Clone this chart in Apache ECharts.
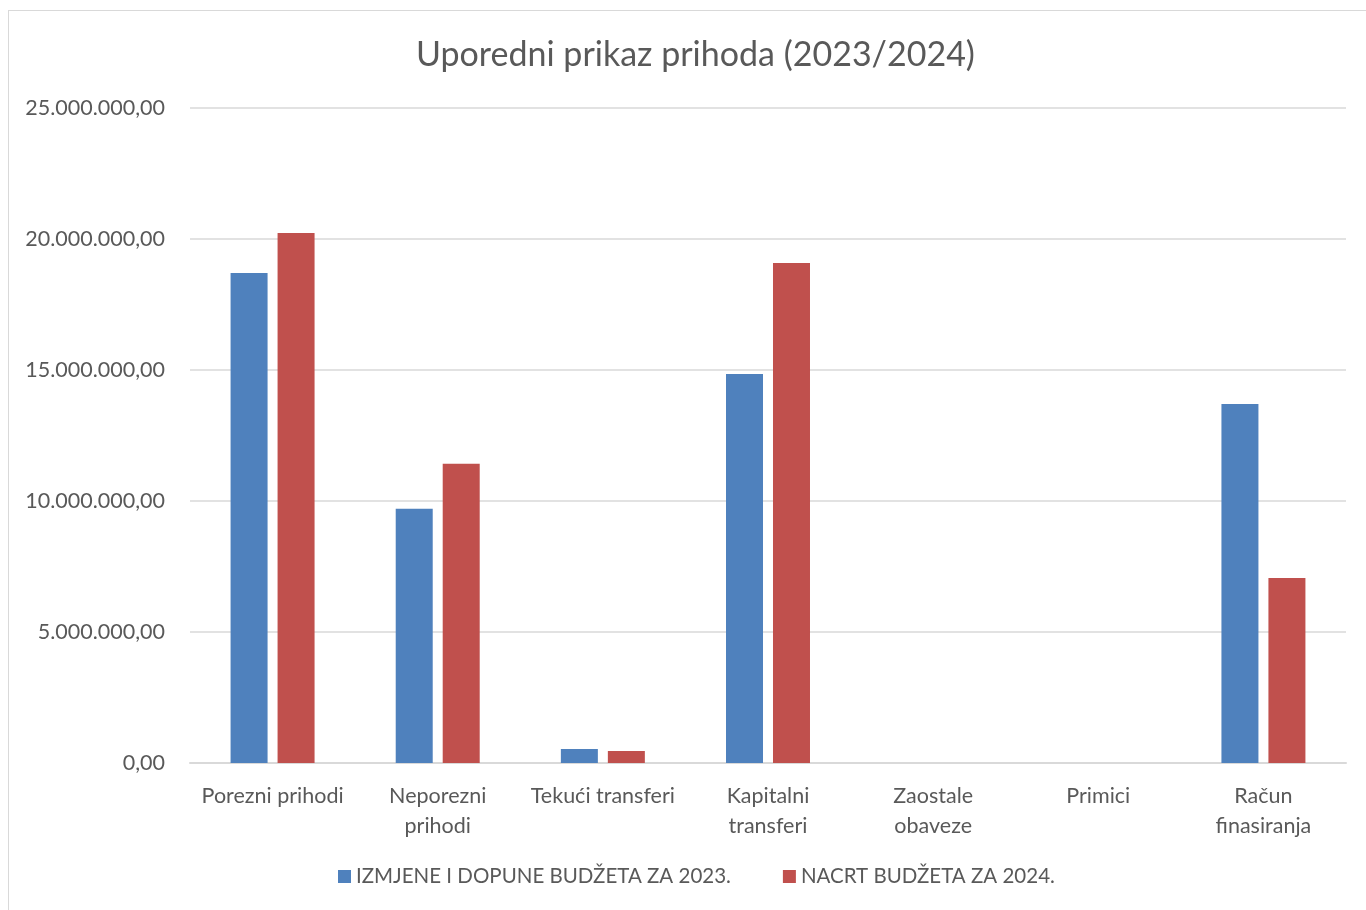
<!DOCTYPE html>
<html>
<head>
<meta charset="utf-8">
<script src="https://cdn.jsdelivr.net/npm/echarts@6/dist/echarts.min.js"></script>
<style>
  html, body { margin: 0; padding: 0; background: #fff; }
  #frame { position: absolute; left: 8px; top: 10px; width: 1370px; height: 910px; border: 1px solid #d9d9d9; box-sizing: border-box; }
  #chart { position: absolute; left: 0; top: 0; width: 1366px; height: 910px; }
</style>
</head>
<body>
<div id="frame"></div>
<div id="chart"></div>
<script>
// kategorije prihoda
var categories = ['Porezni prihodi', 'Neporezni\nprihodi', 'Tekući transferi', 'Kapitalni\ntransferi', 'Zaostale\nobaveze', 'Primici', 'Račun\nfinasiranja'];
var izmjene2023 = [18700000, 9700000, 530000, 14850000, 0, 0, 13700000];
var nacrt2024 = [20230000, 11420000, 460000, 19080000, 0, 0, 7060000];
var yTicks = [0, 5000000, 10000000, 15000000, 20000000, 25000000];

function formatNum(v) {
    var s = Math.round(v).toString().replace(/\B(?=(\d{3})+(?!\d))/g, '.');
    return s + ',00';
}

var fontFam = 'Lato, "Open Sans", sans-serif';
var chart = echarts.init(document.getElementById('chart'));
var option = {
    animation: false,
    textStyle: { fontFamily: fontFam },
    title: {
        text: 'Uporedni prikaz prihoda (2023/2024)',
        left: 411,
        top: 33,
        textStyle: { fontSize: 34, fontWeight: 'normal', color: '#595959', fontFamily: fontFam }
    },
    legend: {
        bottom: 18,
        left: 333,
        itemWidth: 13,
        itemHeight: 13,
        itemGap: 52,
        itemTextGap: 4,
        icon: 'rect',
        textStyle: { fontSize: 20.5, color: '#595959', fontFamily: fontFam },
        data: ['IZMJENE I DOPUNE BUDŽETA ZA 2023.', 'NACRT BUDŽETA ZA 2024.']
    },
    grid: { left: 190, right: 20, top: 108, bottom: 147 },
    xAxis: {
        type: 'category',
        data: categories,
        axisLine: { lineStyle: { color: '#d9d9d9', width: 2 } },
        axisTick: { show: false },
        axisLabel: { fontSize: 21.5, color: '#595959', margin: 18, lineHeight: 30, interval: 0, fontFamily: fontFam }
    },
    yAxis: {
        type: 'value',
        min: yTicks[0],
        max: yTicks[yTicks.length - 1],
        interval: 5000000,
        axisLine: { show: false },
        axisTick: { show: false },
        splitLine: { lineStyle: { color: '#d9d9d9', width: 1.5 } },
        axisLabel: { fontSize: 21.5, color: '#595959', margin: 25, formatter: formatNum, fontFamily: fontFam }
    },
    series: [
        {
            name: 'IZMJENE I DOPUNE BUDŽETA ZA 2023.',
            type: 'bar',
            data: izmjene2023,
            barWidth: 37,
            barGap: '27%',
            itemStyle: { color: '#4f81bd' }
        },
        {
            name: 'NACRT BUDŽETA ZA 2024.',
            type: 'bar',
            data: nacrt2024,
            barWidth: 37,
            itemStyle: { color: '#c0504d' }
        }
    ]
};
chart.setOption(option);
</script>
</body>
</html>
